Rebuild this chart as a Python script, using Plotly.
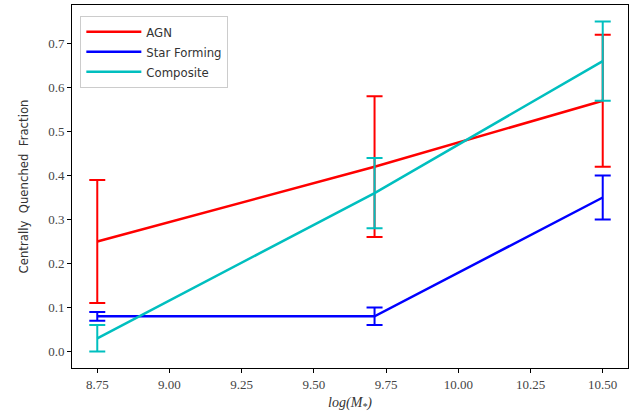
import plotly.graph_objects as go

log_mass = [8.75, 9.71, 10.5]
agn = [0.25, 0.42, 0.57]
agn_err = [0.14, 0.16, 0.15]
sf = [0.08, 0.08, 0.35]
sf_err = [0.01, 0.02, 0.05]
comp = [0.03, 0.36, 0.66]
comp_err = [0.03, 0.08, 0.09]

series = [
    ("AGN", agn, agn_err, "#ff0000"),
    ("Star Forming", sf, sf_err, "#0000ff"),
    ("Composite", comp, comp_err, "#00bfbf"),
]

fig = go.Figure()
for name, vals, errs, color in series:
    fig.add_trace(go.Scatter(
        x=log_mass, y=vals, name=name, mode="lines",
        line=dict(color=color, width=2.5),
        error_y=dict(type="data", array=errs, visible=True, color=color,
                     thickness=2, width=8),
    ))

axis_common = dict(
    showline=True, linecolor="black", linewidth=1, mirror=True,
    ticks="outside", ticklen=4, tickcolor="black", showgrid=False,
    zeroline=False, tickfont=dict(family="Liberation Serif", size=13, color="#444"),
)

fig.update_layout(
    width=640, height=416,
    margin=dict(l=72, r=12, t=5, b=48),
    plot_bgcolor="white", paper_bgcolor="white",
    xaxis=dict(range=[8.6625, 10.5875], tickvals=[8.75, 9.0, 9.25, 9.5, 9.75, 10.0, 10.25, 10.5],
               ticktext=["8.75", "9.00", "9.25", "9.50", "9.75", "10.00", "10.25", "10.50"],
               title=dict(text="<i>log(M<sub>*</sub>)</i>", standoff=6,
                          font=dict(family="Liberation Serif", size=14, color="#333")),
               **axis_common),
    yaxis=dict(range=[-0.0375, 0.7875], tickvals=[0, 0.1, 0.2, 0.3, 0.4, 0.5, 0.6, 0.7],
               ticktext=["0.0", "0.1", "0.2", "0.3", "0.4", "0.5", "0.6", "0.7"],
               title=dict(text="Centrally  Quenched  Fraction", standoff=16,
                          font=dict(family="Liberation Sans Narrow, DejaVu Sans Condensed, DejaVu Sans", size=13, color="#333")),
               **axis_common),
    legend=dict(x=0.015, y=0.97, xanchor="left", yanchor="top",
                bgcolor="white", bordercolor="#ccc", borderwidth=1,
                font=dict(family="DejaVu Sans Condensed, DejaVu Sans", size=13, color="#333"),
                itemwidth=55, tracegroupgap=0),
    showlegend=True,
)

fig.write_html("out.html")
